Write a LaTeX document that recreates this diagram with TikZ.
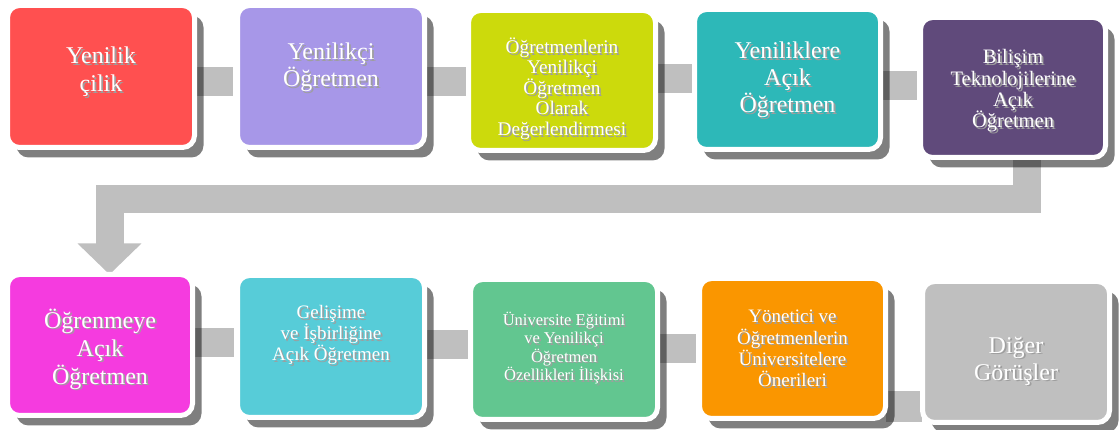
\documentclass[tikz,border=0pt]{standalone}
\usepackage{fontspec}
\setmainfont{Liberation Serif}
\usetikzlibrary{shadows,arrows.meta}
\pgfdeclarelayer{background}
\pgfsetlayers{background,main}
\definecolor{cA}{HTML}{FF5050}
\definecolor{cB}{HTML}{A797E8}
\definecolor{cC}{HTML}{CCDA0C}
\definecolor{cD}{HTML}{2DB8B8}
\definecolor{cE}{HTML}{604A7B}
\definecolor{cF}{HTML}{F53BDF}
\definecolor{cG}{HTML}{57CCD8}
\definecolor{cH}{HTML}{62C690}
\definecolor{cI}{HTML}{FA9600}
\definecolor{cJ}{HTML}{BFBFBF}
\definecolor{barc}{HTML}{BFBFBF}
\tikzset{
  box/.style={rounded corners=12pt, draw=white, line width=5pt, inner sep=0pt, outer sep=0pt,
    drop shadow={shadow xshift=9pt, shadow yshift=-10pt, fill=black, opacity=0.5}},
  tshadow/.style={text=black!38, align=center, inner sep=0pt},
  txt/.style={text=white, align=center, inner sep=0pt},
  bar/.style={draw=barc, line width=29pt},
  bigarrow/.style={draw=barc, line width=28pt, -{Triangle[width=62pt,length=31pt]}}
}
\newcommand\diabox[8]{%
  \node[box, fill=#5, minimum width=#3, minimum height=#4] (#1) at (#2) {};
  \node[tshadow, font={\fontsize#6\selectfont}] (#1-s) at ([shift={(1.8pt,#8-1.8pt)}]#1.center) {#7};
  \node[txt, font={\fontsize#6\selectfont}] (#1-t) at ([yshift=#8]#1.center) {#7};}
\begin{document}
\begin{tikzpicture}[x=1pt,y=-1pt]
\useasboundingbox (0,0) rectangle (1120,430);
\diabox{A}{101,76.5}{187pt}{142pt}{cA}{{24}{28}}{Yenilik\\çilik}{4.5pt}
\diabox{B}{331,76.5}{187pt}{142pt}{cB}{{24}{27}}{Yenilikçi\\Öğretmen}{9pt}
\diabox{C}{562,80.5}{187pt}{140pt}{cC}{{19.3}{20.5}}{Öğretmenlerin\\Yenilikçi\\Öğretmen\\Olarak\\Değerlendirmesi}{-8pt}
\diabox{D}{787.5,79.5}{186pt}{140pt}{cD}{{24}{27}}{Yeniliklere\\Açık\\Öğretmen}{0pt}
\diabox{E}{1013,87.5}{185pt}{140pt}{cE}{{20.5}{21.3}}{Bilişim\\Teknolojilerine\\Açık\\Öğretmen}{-3.5pt}
\diabox{F}{100,345}{185pt}{141pt}{cF}{{24}{28}}{Öğrenmeye\\Açık\\Öğretmen}{-4pt}
\diabox{G}{331,346.5}{187pt}{142pt}{cG}{{19}{21}}{Gelişime\\ve İşbirliğine\\Açık Öğretmen}{11.5pt}
\diabox{H}{564,349.5}{187pt}{140pt}{cH}{{16.5}{18.4}}{Üniversite Eğitimi\\ve Yenilikçi\\Öğretmen\\Özellikleri İlişkisi}{1.5pt}
\diabox{I}{792.5,348.5}{186pt}{140pt}{cI}{{19}{21.3}}{Yönetici ve\\Öğretmenlerin\\Üniversitelere\\Önerileri}{0pt}
\diabox{J}{1016,352}{187pt}{141pt}{cJ}{{24}{27}}{Diğer\\Görüşler}{-9pt}
\coordinate (hb) at (0,199.5);
\begin{pgfonlayer}{background}
\draw[bar, shorten >=4.5pt] ([yshift=-5pt]A.east) -- ([yshift=-5pt]A.east -| B.west);
\draw[bar, shorten >=2.5pt] ([yshift=-5.5pt]B.east) -- ([yshift=-5.5pt]B.east -| C.west);
\draw[bar, shorten >=2.5pt] ([yshift=2pt]C.east) -- ([yshift=2pt]C.east -| D.west);
\draw[bar, shorten >=3.5pt] ([yshift=-6.5pt]D.east) -- ([yshift=-6.5pt]D.east -| E.west);
\draw[bar, shorten >=3.5pt] ([yshift=2.5pt]F.east) -- ([yshift=2.5pt]F.east -| G.west);
\draw[bar, shorten >=2.5pt] ([yshift=1.5pt]G.east) -- ([yshift=1.5pt]G.east -| H.west);
\draw[bar, shorten >=3.5pt] ([yshift=1pt]H.east) -- ([yshift=1pt]H.east -| I.west);
\draw[bar, line width=31pt, shorten >=0.5pt] ([yshift=-58.5pt]I.east) -- ([yshift=-58.5pt]I.east -| J.west);
\draw[bigarrow] ([xshift=14pt]E.center) |- ([xshift=9.5pt]F.north |- hb) -- ([xshift=9.5pt]F.north);
\end{pgfonlayer}
\end{tikzpicture}
\end{document}
